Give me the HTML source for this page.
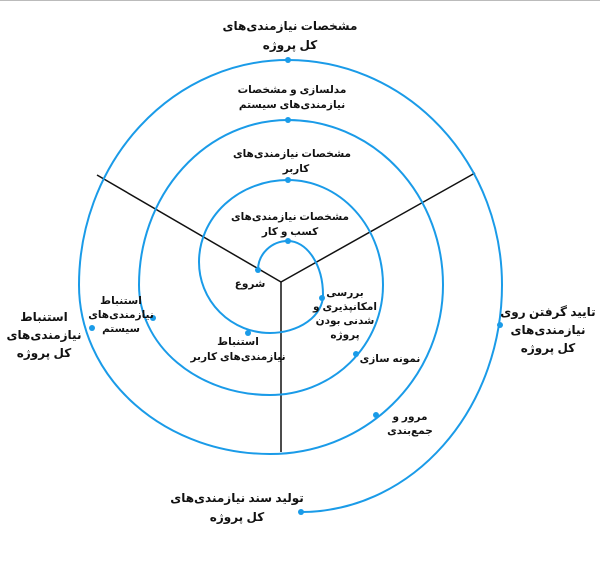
<!DOCTYPE html>
<html><head><meta charset="utf-8"><style>
html,body{margin:0;padding:0;background:#fff;width:600px;height:562px;overflow:hidden}
svg text{font-family:"Liberation Sans","Noto Sans CJK SC","DejaVu Sans",sans-serif;font-weight:bold;fill:#111;text-anchor:middle}
</style></head><body>
<svg width="600" height="562" viewBox="0 0 600 562" xmlns="http://www.w3.org/2000/svg">
<line x1="0" y1="0.5" x2="600" y2="0.5" stroke="#bbb" stroke-width="1"/>
<g stroke="#111" stroke-width="1.5" fill="none">
<line x1="281" y1="282" x2="97" y2="175"/>
<line x1="281" y1="282" x2="475" y2="173"/>
<line x1="281" y1="282" x2="281" y2="452"/>
</g>
<path fill="none" stroke="#1a9be8" stroke-width="2" d="M258,270 A30,29 0 0 1 288,241 A35,54 0 0 1 323,295 A53,38 0 0 1 270,333 A71,71 0 0 1 199,262 A89,82 0 0 1 288,180 A95,105 0 0 1 383,285 A113,110 0 0 1 270,395 A131,110 0 0 1 139,285 A149,165 0 0 1 288,120 A155,165 0 0 1 443,285 A173,169 0 0 1 270,454 A191,169 0 0 1 79,285 A209,225 0 0 1 288,60 A214,225 0 0 1 502,285 A201,227 0 0 1 301,512"/>
<g fill="#1a9be8">
<circle cx="258" cy="270" r="3"/><circle cx="288" cy="241" r="3"/><circle cx="322" cy="298" r="3"/>
<circle cx="248" cy="333" r="3"/><circle cx="288" cy="180" r="3"/><circle cx="356" cy="354" r="3"/>
<circle cx="153" cy="318" r="3"/><circle cx="288" cy="120" r="3"/><circle cx="376" cy="415" r="3"/>
<circle cx="92" cy="328" r="3"/><circle cx="288" cy="60" r="3"/><circle cx="500" cy="325" r="3"/>
<circle cx="301" cy="512" r="3"/>
</g>
<g font-size="12">
<text x="290" y="30">مشخصات نیازمندی‌های</text><text x="290" y="49">کل پروژه</text>
<text x="44" y="321">استنباط</text><text x="44" y="339">نیازمندی‌های</text><text x="44" y="357">کل پروژه</text>
<text x="548" y="316">تایید گرفتن روی</text><text x="548" y="334">نیازمندی‌های</text><text x="548" y="352">کل پروژه</text>
<text x="237" y="502">تولید سند نیازمندی‌های</text><text x="237" y="521">کل پروژه</text>
</g>
<g font-size="10.5">
<text x="292" y="93">مدلسازی و مشخصات</text><text x="292" y="108">نیازمندی‌های سیستم</text>
<text x="292" y="157">مشخصات نیازمندی‌های</text><text x="296" y="172">کاربر</text>
<text x="290" y="220">مشخصات نیازمندی‌های</text><text x="290" y="235">کسب و کار</text>
<text x="250" y="287">شروع</text>
<text x="345" y="296">بررسی</text><text x="345" y="310">امکانپذیری و</text><text x="345" y="324">شدنی بودن</text><text x="345" y="338">پروژه</text>
<text x="238" y="345">استنباط</text><text x="238" y="360">نیازمندی‌های کاربر</text>
<text x="121" y="304">استنباط</text><text x="121" y="318">نیازمندی‌های</text><text x="121" y="332">سیستم</text>
<text x="390" y="362">نمونه سازی</text>
<text x="410" y="420">مرور و</text><text x="410" y="434">جمع‌بندی</text>
</g>
</svg>
</body></html>
